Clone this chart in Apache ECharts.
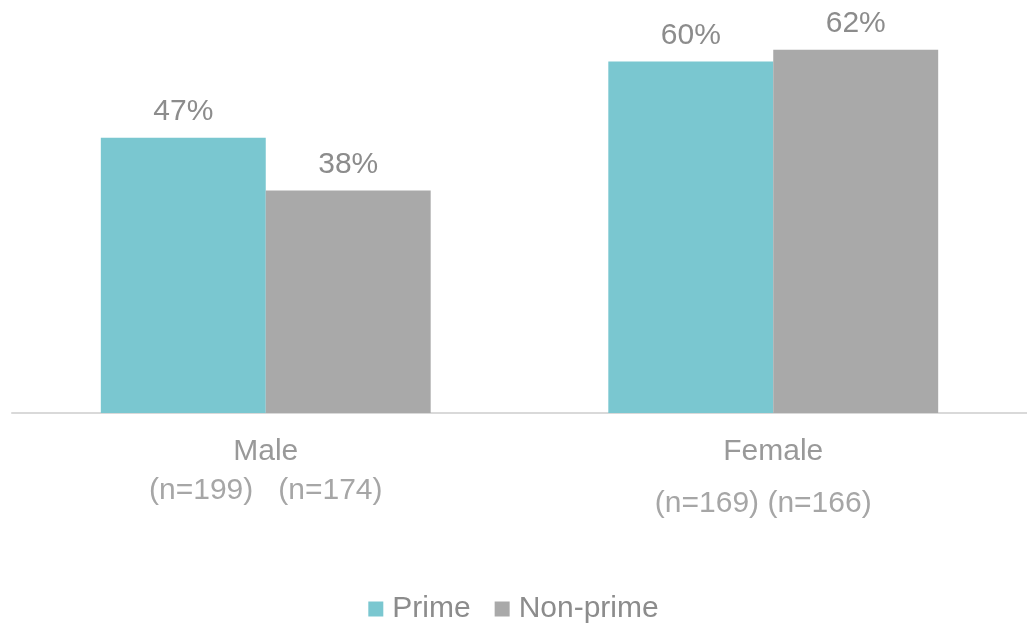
<!DOCTYPE html>
<html>
<head>
<meta charset="utf-8">
<script src="https://cdn.jsdelivr.net/npm/echarts@6/dist/echarts.min.js"></script>
<style>
  html, body { margin: 0; padding: 0; background: #fff; }
  #chart { width: 1027px; height: 624px; }
</style>
</head>
<body>
<div id="chart"></div>
<script>
// chart data
const categories = ['Male', 'Female'];
const sampleSizes = ['(n=199)   (n=174)', '(n=169) (n=166)'];
const seriesNames = ['Prime', 'Non-prime'];
const primeValues = [47, 60];
const nonPrimeValues = [38, 62];

const chart = echarts.init(document.getElementById('chart'));
const font = 'Liberation Sans, Arial, sans-serif';

const option = {
    animation: false,
    grid: {
        left: 12,
        right: 0,
        top: 3,
        bottom: 211,
        containLabel: false,
    },
    legend: {
        data: seriesNames,
        bottom: -5,
        left: 'center',
        itemWidth: 15,
        itemHeight: 15,
        itemGap: 24,
        icon: 'rect',
        textStyle: {
            fontFamily: font,
            fontSize: 30,
            color: '#8C8C8C',
            padding: [0, 0, 0, 4],
        },
    },
    xAxis: {
        type: 'category',
        data: categories,
        axisTick: { show: false },
        axisLine: { lineStyle: { color: '#D9D9D9', width: 2 } },
        axisLabel: {
            margin: 21,
            formatter: (value, idx) => {
                const style = idx === 0 ? 'nm' : 'nf';
                return '{c|' + value + '}\n{' + style + '|' + sampleSizes[idx] + '}';
            },
            rich: {
                c: { fontFamily: font, fontSize: 30, color: '#999999', lineHeight: 36 },
                nm: { fontFamily: font, fontSize: 30, color: '#A6A6A6', lineHeight: 40,
                      padding: [2, 0, 0, 0] },
                nf: { fontFamily: font, fontSize: 30, color: '#A6A6A6', lineHeight: 40,
                      padding: [28, 20, 0, 0] },
            },
        },
    },
    yAxis: {
        type: 'value',
        min: 0,
        max: 70,
        show: false,
        splitLine: { show: false },
    },
    series: [
        {
            name: seriesNames[0],
            type: 'bar',
            data: primeValues,
            barGap: '0%',
            barCategoryGap: '35%',
            itemStyle: { color: '#7AC7D0' },
            label: {
                show: true,
                position: 'top',
                distance: 11,
                formatter: '{c}%',
                fontFamily: font,
                fontSize: 30,
                color: '#8C8C8C',
            },
        },
        {
            name: seriesNames[1],
            type: 'bar',
            data: nonPrimeValues,
            itemStyle: { color: '#A9A9A9' },
            label: {
                show: true,
                position: 'top',
                distance: 11,
                formatter: '{c}%',
                fontFamily: font,
                fontSize: 30,
                color: '#8C8C8C',
            },
        },
    ],
};

chart.setOption(option);
</script>
</body>
</html>
